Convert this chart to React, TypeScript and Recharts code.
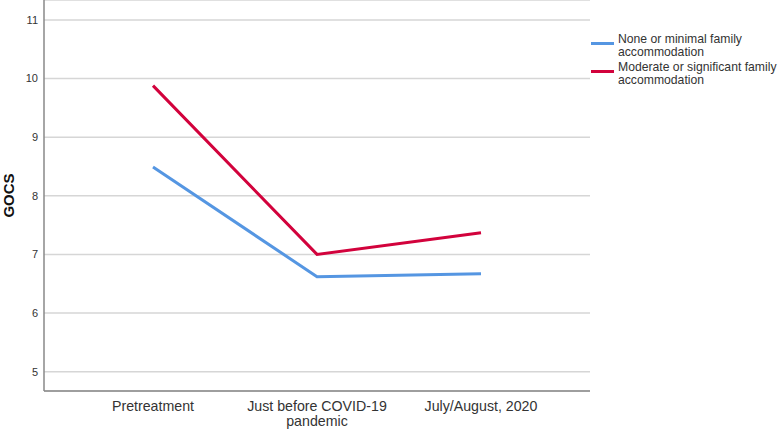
import React from "react";
import { LineChart, Line, XAxis, YAxis, CartesianGrid } from "recharts";

const categories = ["Pretreatment", "Just before COVID-19\npandemic", "July/August, 2020"];
const noneMinimal = [8.49, 6.62, 6.67];
const moderateSignificant = [9.88, 7.0, 7.37];
const yTicks = [5, 6, 7, 8, 9, 10, 11];

const seriesInfo = [
  { key: "none", name: "None or minimal family\naccommodation", color: "#5596e2" },
  { key: "moderate", name: "Moderate or significant family\naccommodation", color: "#d2023c" },
];

const data = categories.map((c, i) => ({
  cat: c,
  none: noneMinimal[i],
  moderate: moderateSignificant[i],
}));

const FONT = '"Liberation Sans", Arial, sans-serif';

const XTick = (props: any) => {
  const { x, y, payload } = props;
  const lines = String(payload.value).split("\n");
  return (
    <text x={x} y={y} textAnchor="middle" fontFamily={FONT} fontSize={14.2} fill="#333">
      {lines.map((l: string, i: number) => (
        <tspan key={i} x={x} dy={i === 0 ? 12 : 15}>
          {l}
        </tspan>
      ))}
    </text>
  );
};

const LegendBox = () => (
  <div
    style={{
      position: "absolute",
      left: 591,
      top: 33,
      width: 187,
      fontFamily: FONT,
      fontSize: 12.2,
      color: "#333",
      lineHeight: "13px",
    }}
  >
    {seriesInfo.map((s) => {
      const lines = s.name.split("\n");
      return (
        <div key={s.key} style={{ position: "relative", height: 28 }}>
          <div
            style={{
              position: "absolute",
              left: 0,
              top: 9,
              width: 23,
              height: 3,
              background: s.color,
            }}
          />
          <div style={{ position: "absolute", left: 27, top: 0, whiteSpace: "nowrap" }}>
            {lines.map((l, i) => (
              <div key={i}>{l}</div>
            ))}
          </div>
        </div>
      );
    })}
  </div>
);

const YLabel = (props: any) => {
  const vb = props.viewBox || {};
  const cx = 8;
  const cy = (vb.y ?? 0) + (vb.height ?? 391) / 2;
  return (
    <text
      x={cx}
      y={cy}
      transform={`rotate(-90, ${cx}, ${cy})`}
      textAnchor="middle"
      dominantBaseline="central"
      fontFamily={FONT}
      fontWeight="bold"
      fontSize={15}
      fill="#111"
    >
      GOCS
    </text>
  );
};

export default function App() {
  return (
    <div style={{ position: "absolute", left: 0, top: 0, width: 778, height: 430, background: "#fff" }}>
      <LineChart width={778} height={430} data={data} margin={{ top: 0, right: 188, bottom: 0, left: 0 }}>
        <CartesianGrid horizontal vertical={false} stroke="#d6d6d6" strokeWidth={1.5} />
        <XAxis
          dataKey="cat"
          height={39}
          padding={{ left: 109, right: 109 }}
          axisLine={{ stroke: "#888", strokeWidth: 1.5 }}
          tickLine={false}
          tick={<XTick />}
          interval={0}
        />
        <YAxis
          width={44}
          domain={[4.67, 11.34]}
          ticks={yTicks}
          type="number"
          allowDataOverflow
          axisLine={{ stroke: "#888", strokeWidth: 1.5 }}
          tickLine={false}
          tickSize={6}
          tickMargin={0}
          tick={{ fontFamily: FONT, fontSize: 11, fill: "#333" }}
          label={<YLabel />}
        />
        {seriesInfo.map((s) => (
          <Line
            key={s.key}
            dataKey={s.key}
            name={s.name}
            stroke={s.color}
            strokeWidth={3}
            dot={false}
            activeDot={false}
            type="linear"
            isAnimationActive={false}
          />
        ))}
      </LineChart>
      <LegendBox />
    </div>
  );
}
